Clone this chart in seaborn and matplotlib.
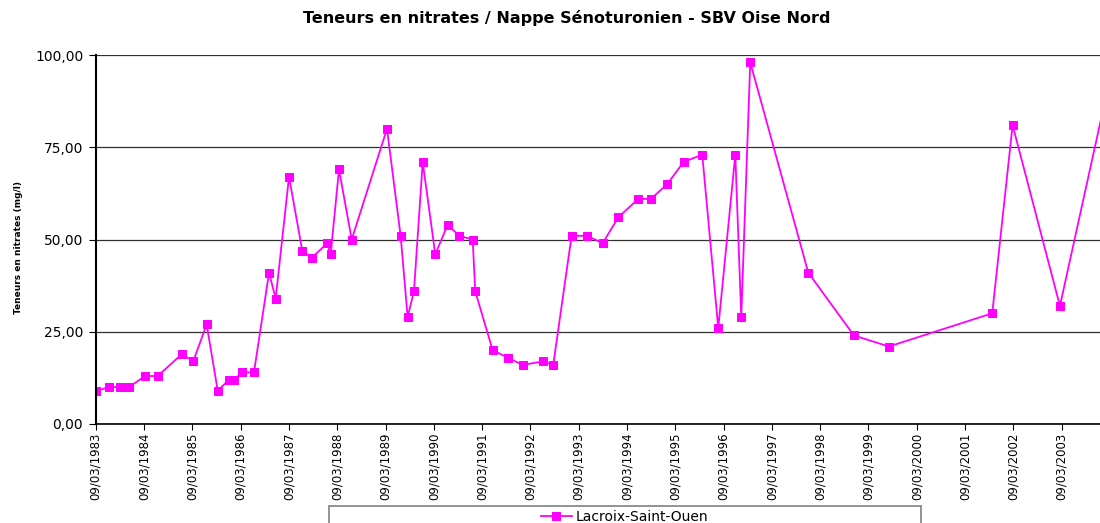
import matplotlib
matplotlib.use('Agg')
import pandas as pd
import numpy as np
import matplotlib.pyplot as plt
import matplotlib.dates as mdates
from matplotlib.patches import Rectangle
import seaborn as sns


dates = ['1983-03-09', '1983-06-20', '1983-09-12', '1983-11-16',
         '1984-03-16', '1984-06-20', '1984-12-21', '1985-03-16', '1985-06-25',
         '1985-09-17', '1985-12-11', '1986-01-18', '1986-03-22', '1986-06-18',
         '1986-10-10', '1986-11-29', '1987-03-10', '1987-06-18', '1987-08-28',
         '1987-12-24', '1988-01-19', '1988-03-22', '1988-06-26', '1989-03-20',
         '1989-07-01', '1989-08-23', '1989-10-10', '1989-12-15', '1990-03-20',
         '1990-06-22', '1990-09-17', '1990-12-28', '1991-01-16', '1991-05-28',
         '1991-09-18', '1992-01-10', '1992-06-14', '1992-08-28', '1993-01-14',
         '1993-05-12', '1993-09-06', '1994-01-02', '1994-06-02', '1994-09-06',
         '1995-01-07', '1995-05-11', '1995-09-29', '1996-01-28', '1996-06-05',
         '1996-07-20', '1996-09-26', '1997-12-09', '1998-11-19', '1999-08-11',
         '2001-09-30', '2002-03-03', '2003-02-24', '2004-02-09']
nitrates = [9, 10, 10, 10,
            13, 13, 19, 17, 27,
            9, 12, 12, 14, 14,
            41, 34, 67, 47, 45,
            49, 46, 69, 50, 80,
            51, 29, 36, 71, 46,
            54, 51, 50, 36, 20,
            18, 16, 17, 16, 51,
            51, 49, 56, 61, 61,
            65, 71, 73, 26, 73,
            29, 98, 41, 24, 21,
            30, 81, 32, 89]
station = 'Lacroix-Saint-Ouen'

df = pd.DataFrame({'date': pd.to_datetime(dates), 'nitrates': nitrates})

fig = plt.figure(figsize=(11, 5.23), dpi=100)
ax = fig.add_axes([0.087, 0.1893, 0.913, 0.7055])

sns.lineplot(data=df, x='date', y='nitrates', ax=ax, color='#FF00FF', marker='s',
             markersize=6.2, markeredgecolor='#FF00FF', linewidth=1.3,
             estimator=None, label=station, legend=False)

ax.set_xlim(pd.Timestamp('1983-03-09'), pd.Timestamp('2003-12-24'))
ax.set_ylim(0, 100)
ax.set_yticks([0, 25, 50, 75, 100])
ax.set_yticklabels(['0,00', '25,00', '50,00', '75,00', '100,00'], fontsize=10)
ax.yaxis.grid(True, color='#303030', linewidth=0.9)
ax.set_axisbelow(True)

ax.xaxis.set_major_locator(mdates.YearLocator(base=1, month=3, day=9))
ax.xaxis.set_major_formatter(mdates.DateFormatter('%d/%m/%Y'))
ax.tick_params(axis='x', labelrotation=90, labelsize=8.5, length=4, pad=2)
ax.tick_params(axis='y', length=5, pad=4)

for s in ['top', 'right']:
    ax.spines[s].set_visible(False)
ax.spines['left'].set_linewidth(1.5)
ax.spines['bottom'].set_linewidth(1.2)

ax.set_xlabel('')
ax.set_ylabel('Teneurs en nitrates (mg/l)', fontsize=6.5, fontweight='bold')
ax.yaxis.set_label_coords(-0.072, 0.477)

fig.text(0.515, 0.965, 'Teneurs en nitrates / Nappe Sénoturonien - SBV Oise Nord',
         ha='center', va='center', fontsize=11.5, fontweight='bold')

# legend box (cut at the bottom like the original)
fig.patches.append(Rectangle((329 / 1100, -0.02), 592 / 1100, (523 - 506) / 523 + 0.02,
                             transform=fig.transFigure, fill=False,
                             edgecolor='#808080', linewidth=1.2))
handles, labels = ax.get_legend_handles_labels()
fig.legend(handles, labels, loc='center', bbox_to_anchor=(0.568, 0.012),
           frameon=False, fontsize=10, handlelength=2.2, handletextpad=0.3)

plt.savefig('out.png', dpi=100)
